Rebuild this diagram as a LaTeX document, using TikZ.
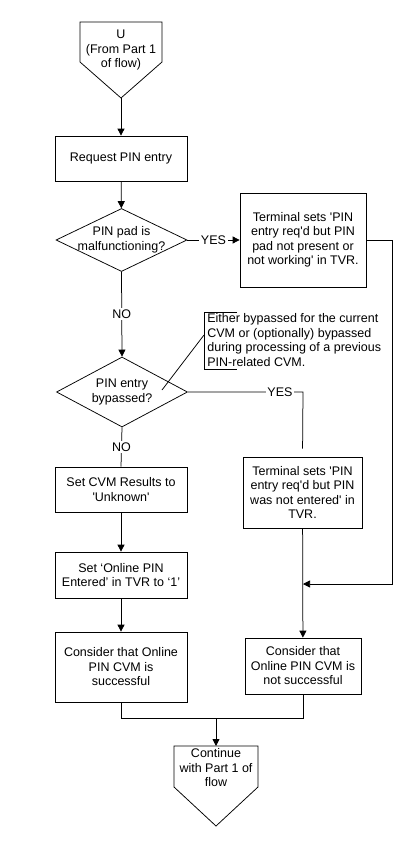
\documentclass[tikz,border=0pt]{standalone}
\usepackage{fontspec}
\setmainfont{Liberation Sans}[Ligatures=TeXOff]
\usetikzlibrary{shapes.geometric,arrows.meta}

\begin{document}
\begin{tikzpicture}[x=1pt,y=-1pt,
    box/.style={rectangle, draw, minimum width=132pt, minimum height=45pt,
      align=center, inner sep=0pt},
    decision/.style={diamond, draw, minimum width=131pt, minimum height=#1,
      inner sep=0pt},
    decision/.default=63pt,
    txt/.style={align=center, inner sep=0pt},
    lbl/.style={fill=white, inner sep=1.5pt},
    >={Triangle[length=7pt,width=7pt]}, line width=0.75pt,
    font=\fontsize{12.5}{14.5}\selectfont]
    \useasboundingbox (0,0) rectangle (406,843);
    % start connector
    \draw (80,22) -- (162,22) -- (162,62) -- (121,98) -- (80,62) -- cycle;
    \coordinate (start) at (121,98);
    \node[txt] (startT) at (121,50) {U\\(From Part 1\\of flow)};
    \node[box] (req) at (121,158.5) {Request PIN entry};
    \node[decision] (pad) at (121.5,240) {};
    \node[txt] at (pad) {PIN pad is\\malfunctioning?};
    \node[box, minimum width=126pt, minimum height=94pt] (padTVR) at (303,240)
      {Terminal sets 'PIN\\entry req'd but PIN\\pad not present or\\not working' in TVR.};
    \node[decision=70pt] (byp) at (122,392) {};
    \node[txt] at (byp) {PIN entry\\bypassed?};
    % note
    \node[txt, anchor=west, align=left] (note) at (207,340)
      {Either bypassed for the current\\CVM or (optionally) bypassed\\during processing of a previous\\PIN-related CVM.};
    \draw (237,312) -- (204,312) -- (204,369) -- (237,369);
    \coordinate (noteHook) at (204,335);
    \coordinate (bypPt) at (162,390);
    \draw (noteHook) -- (bypPt);
    \node[box, minimum width=119pt, minimum height=71pt] (bypTVR) at (302.5,492.5)
      {Terminal sets 'PIN\\entry req'd but PIN\\was not entered' in\\TVR.};
    \node[box] (cvm) at (121,489.5) {Set CVM Results to\\'Unknown'};
    \node[box, minimum height=46pt] (onl) at (121,575) {Set ‘Online PIN\\Entered’ in TVR to ‘1’};
    \node[box, minimum height=70pt] (ok) at (121,667) {Consider that Online\\PIN CVM is\\successful};
    \node[box, minimum width=116pt, minimum height=56pt] (fail) at (303,666)
      {Consider that\\Online PIN CVM is\\not successful};
    % end connector
    \draw (174,746) -- (258,746) -- (258,787) -- (216,826) -- (174,787) -- cycle;
    \coordinate (end) at (216,746);
    \node[txt] (endT) at (216,768) {Continue\\with Part 1 of\\flow};
    % connectors
    \draw[->] (start) -- (req);
    \draw[->] (req) -- (pad);
    \draw[->] (pad.east) -- node[lbl] {YES} (padTVR.west);
    \draw[->] (pad.south) -- node[lbl] {NO} (byp.north);
    \coordinate (loopA) at (392,240);
    \coordinate (loopB) at (392,584);
    \coordinate (loopC) at (303,584);
    \draw[->] (padTVR.east) -- (loopA) -- (loopB) -- (loopC);
    \coordinate (yesTurn) at (303,392);
    \draw[shorten >=8pt] (byp.east) -- node[lbl, pos=0.8] {YES} (yesTurn) -- (bypTVR.north);
    \draw (byp.south) -- node[lbl] {NO} (cvm.north);
    \draw[->] (cvm) -- (onl);
    \draw[->] (onl) -- (ok);
    \draw[->] (bypTVR) -- (fail);
    \coordinate (mergeL) at (121,718);
    \coordinate (mergeR) at (303,718);
    \coordinate (mergeM) at (216,718);
    \draw (ok.south) -- (mergeL) -- (mergeR) -- (fail.south);
    \draw[->] (mergeM) -- (end);
\end{tikzpicture}
\end{document}
